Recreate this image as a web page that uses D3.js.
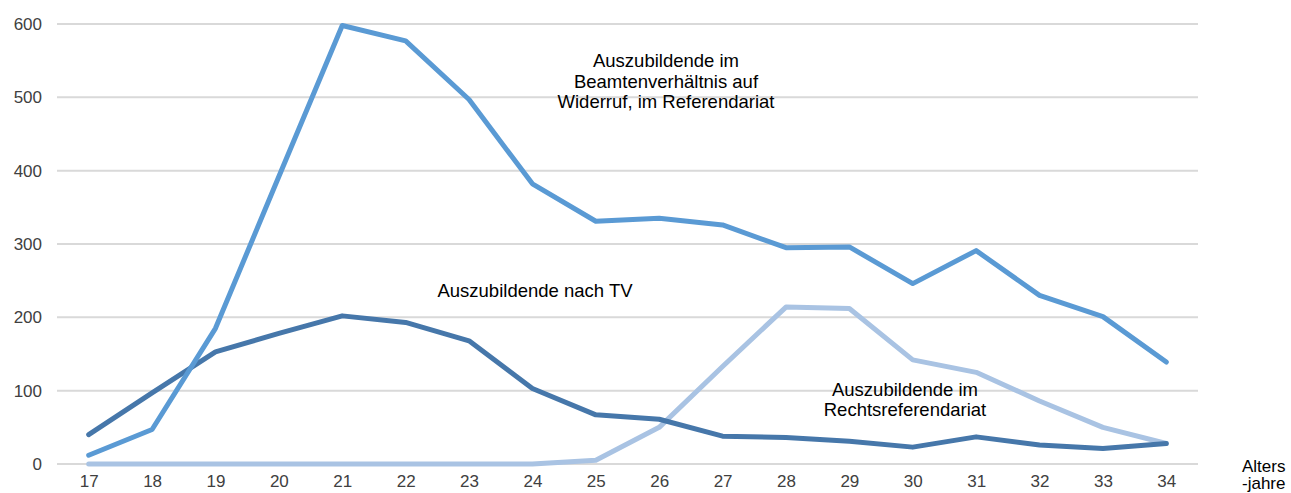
<!DOCTYPE html>
<html>
<head>
<meta charset="utf-8">
<script src="https://cdn.jsdelivr.net/npm/d3@7"></script>
<style>
  html, body { margin: 0; padding: 0; background: #fff; }
  svg text { font-family: "Liberation Sans", Arial, sans-serif; }
</style>
</head>
<body>
<svg id="chart" width="1291" height="493"></svg>
<script>
// Age in years
const ages = [17, 18, 19, 20, 21, 22, 23, 24, 25, 26, 27, 28, 29, 30, 31, 32, 33, 34];

// Trainees in civil-service training (Beamte auf Widerruf, Referendariat)
const beamte = [12, 47, 185, 392, 598, 577, 497, 382, 331, 335, 326, 295, 296, 246, 291, 230, 201, 139];
// Trainees under collective agreement (TV)
const tv = [40, 97, 153, 178, 202, 193, 168, 103, 67, 61, 38, 36, 31, 23, 37, 26, 21, 28];
// Legal traineeship (Rechtsreferendariat)
const rechts = [0, 0, 0, 0, 0, 0, 0, 0, 5, 50, 133, 214, 212, 142, 125, 86, 50, 28];

const yTicks = [0, 100, 200, 300, 400, 500, 600];

const svg = d3.select("#chart");
const margin = { left: 57, right: 93, top: 24, bottom: 29 };
const W = 1291, H = 493;

const x = d3.scalePoint()
  .domain(ages)
  .range([margin.left, W - margin.right])
  .padding(0.5);

const y = d3.scaleLinear()
  .domain([0, 600])
  .range([H - margin.bottom, margin.top]);

// Horizontal gridlines
svg.append("g")
  .selectAll("line")
  .data(yTicks)
  .join("line")
  .attr("x1", margin.left)
  .attr("x2", W - margin.right)
  .attr("y1", d => y(d))
  .attr("y2", d => y(d))
  .attr("stroke", "#d9d9d9")
  .attr("stroke-width", 2);

// Y axis labels
const yAxis = svg.append("g")
  .attr("transform", `translate(${margin.left - 15},0)`)
  .call(d3.axisLeft(y).tickValues(yTicks).tickSize(0).tickPadding(0));
yAxis.select(".domain").remove();
yAxis.selectAll("text")
  .attr("font-size", 17)
  .attr("fill", "#404040")
  .attr("font-family", "Liberation Sans, Arial, sans-serif");

// X axis labels
const xAxis = svg.append("g")
  .attr("transform", `translate(0,${H - margin.bottom + 11})`)
  .call(d3.axisBottom(x).tickSize(0).tickPadding(0));
xAxis.select(".domain").remove();
xAxis.selectAll("text")
  .attr("font-size", 17)
  .attr("fill", "#404040")
  .attr("font-family", "Liberation Sans, Arial, sans-serif");

const line = d3.line()
  .x((d, i) => x(ages[i]))
  .y(d => y(d));

const series = [
  { values: rechts, color: "#a9c3e3" },
  { values: tv, color: "#4677aa" },
  { values: beamte, color: "#5a9ad4" }
];

svg.append("g")
  .selectAll("path")
  .data(series)
  .join("path")
  .attr("d", d => line(d.values))
  .attr("fill", "none")
  .attr("stroke", d => d.color)
  .attr("stroke-width", 5)
  .attr("stroke-linejoin", "round")
  .attr("stroke-linecap", "round");

// Series annotations
function label(lines, cx, top, size, anchor = "middle", lh = 20.5) {
  const t = svg.append("text")
    .attr("text-anchor", anchor)
    .attr("font-size", size)
    .attr("fill", "#000");
  lines.forEach((s, i) => {
    t.append("tspan").attr("x", cx).attr("y", top + i * lh).text(s);
  });
}

label(["Auszubildende im", "Beamtenverhältnis auf", "Widerruf, im Referendariat"], 666, 67, 18.5);
label(["Auszubildende nach TV"], 535, 297, 18.5);
label(["Auszubildende im", "Rechtsreferendariat"], 905, 396, 18.5, "middle", 20);
label(["Alters", "-jahre"], 1242, 472, 17, "start", 17);
</script>
</body>
</html>
